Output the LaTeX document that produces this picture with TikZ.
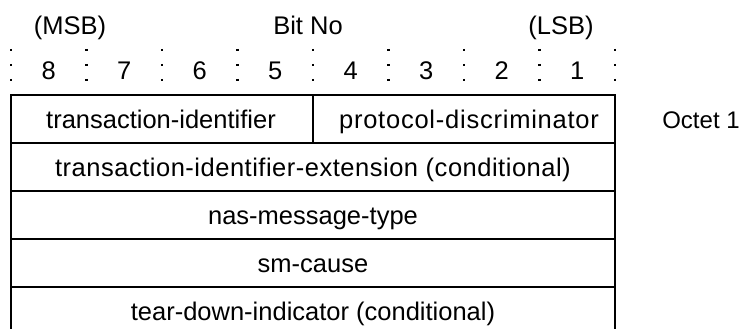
\documentclass[tikz,border=0pt]{standalone}
\usepackage{fontspec}
\setmainfont{Liberation Sans}
\usetikzlibrary{positioning}

\begin{document}
\begin{tikzpicture}[
				x=1pt, y=-1pt,
				line width=1.6pt,
				every node/.style={font=\fontsize{25.5}{30}\selectfont, inner sep=0pt},
				field/.style={anchor=base},
				spaced/.style={field, font=\fontsize{25.5}{30}\selectfont\addfontfeature{LetterSpace=#1}},
				bitsep/.style={line width=2.4pt, dash pattern=on 2pt off 13pt}]
			
			\useasboundingbox (0,0) rectangle (747,329);
			
			% header
			\node[field] (msb) at (70,35) {(MSB)};
			\node[field] (bitno) at (308,35) {Bit No};
			\node[field] (lsb) at (561,35) {(LSB)};
			
			\foreach \b in {1,...,8}
				\node[field] (bit\b) at ({48.75+75.5*(8-\b)},80) {\b};
			\foreach \i in {0,...,8}
				\draw[bitsep] ({11+75.5*\i},49) -- ({11+75.5*\i},82);
			
			% octets
			\draw (11,329) -- (11,95) -- (615,95) -- (615,329);
			\foreach \y in {143,191,239,287}
				\draw (11,\y) -- (615,\y);
			\draw (313,95) -- (313,143);
			
			\node[field] (tid) at (161,128) {transaction-identifier};
			\node[spaced=3] (pd) at (469,128) {protocol-discriminator};
			\node[spaced=2] (tidext) at (313,176) {transaction-identifier-extension (conditional)};
			\node[field] (msgtype) at (313,224) {nas-message-type};
			\node[field] (cause) at (313,272) {sm-cause};
			\node[field] (teardown) at (313,320) {tear-down-indicator (conditional)};
			
			\node[field, font=\fontsize{24}{28}\selectfont] (octet) at (701,128) {Octet 1};
			
		\end{tikzpicture}
\end{document}
